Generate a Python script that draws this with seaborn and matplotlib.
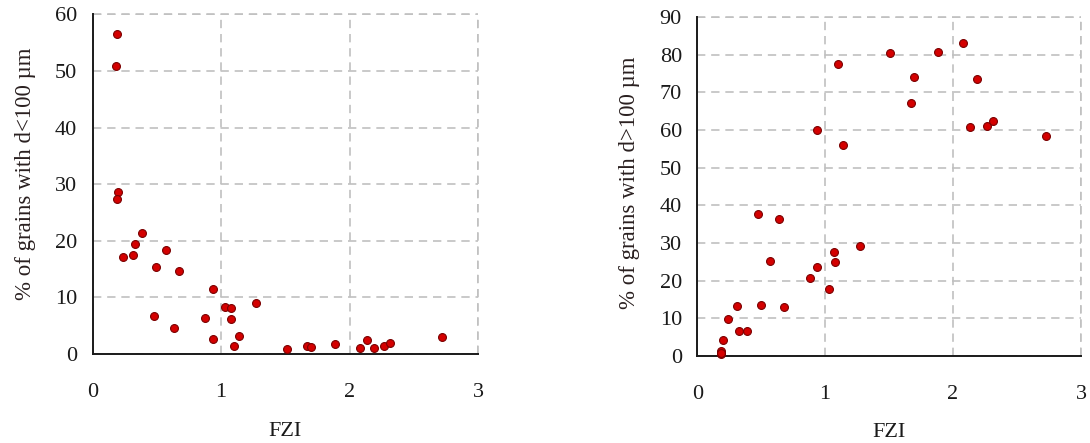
import numpy as np
import pandas as pd
import seaborn as sns
import matplotlib
matplotlib.use("Agg")
import matplotlib.pyplot as plt

# Left panel: % of grains with d<100 µm vs FZI
fzi_left = [0.188, 0.181, 0.199, 0.188, 0.385, 0.330, 0.234, 0.312, 0.571, 0.496,
            0.675, 0.934, 0.475, 0.633, 0.877, 0.934, 1.027, 1.074, 1.074, 1.138,
            1.102, 1.270, 1.511, 1.669, 1.700, 1.884, 2.078, 2.135, 2.193, 2.265,
            2.314, 2.721]
pct_fine = [56.5, 50.8, 28.6, 27.3, 21.4, 19.5, 17.1, 17.4, 18.3, 15.4,
            14.6, 11.5, 6.8, 4.65, 6.4, 2.6, 8.3, 8.1, 6.1, 3.2,
            1.5, 8.95, 0.9, 1.5, 1.3, 1.8, 1.1, 2.4, 1.1, 1.5,
            2.0, 3.0]

# Right panel: % of grains with d>100 µm vs FZI
fzi_right = [1.100, 1.510, 0.933, 1.138, 1.886, 2.080, 1.698, 2.190, 1.670, 2.136,
             2.266, 2.313, 2.724, 0.477, 0.636, 0.570, 1.070, 1.271, 0.933, 1.073,
             0.880, 1.029, 0.310, 0.495, 0.675, 0.237, 0.328, 0.386, 0.198, 0.188,
             0.183, 0.186]
pct_coarse = [77.6, 80.4, 60.1, 56.0, 80.8, 83.2, 74.0, 73.5, 67.1, 60.8,
              61.2, 62.4, 58.5, 37.7, 36.4, 25.3, 27.5, 29.1, 23.7, 25.0,
              20.8, 17.7, 13.3, 13.6, 12.9, 9.8, 6.6, 6.6, 4.1, 1.3,
              0.4, 0.8]

x_ticks = [0, 1, 2, 3]
left_yticks = [0, 10, 20, 30, 40, 50, 60]
right_yticks = [0, 10, 20, 30, 40, 50, 60, 70, 80, 90]

sns.set_theme(style="white")
plt.rcParams['font.family'] = ['Liberation Serif', 'DejaVu Serif']

fig = plt.figure(figsize=(10.9, 4.43), dpi=100)
ax1 = fig.add_axes([0.0849, 0.2009, 0.3537, 0.7668])
ax2 = fig.add_axes([0.6397, 0.1970, 0.3520, 0.7640])

df_l = pd.DataFrame({"FZI": fzi_left, "pct": pct_fine})
df_r = pd.DataFrame({"FZI": fzi_right, "pct": pct_coarse})

panels = [
    (ax1, df_l, left_yticks, "% of grains with d<100 µm", 0.53),
    (ax2, df_r, right_yticks, "% of grains with d>100 µm", 0.51),
]

dash = (0, (5, 3.5))
gcol = "#c0c0c0"
for ax, df, yt, ylab, ly in panels:
    sns.scatterplot(data=df, x="FZI", y="pct", ax=ax, s=32, color="#d40000",
                    edgecolor="#7a0000", linewidth=0.8, zorder=3, clip_on=False)
    ax.set_xlim(0, 3)
    ax.set_ylim(0, yt[-1])
    ax.set_xticks(x_ticks)
    ax.set_yticks(yt)
    ax.grid(True, linestyle=dash, color=gcol, linewidth=1.2, zorder=0)
    ax.set_axisbelow(True)
    for side in ["top", "right"]:
        ax.spines[side].set_visible(False)
    ax.axhline(yt[-1], linestyle=dash, color=gcol, linewidth=1.2, zorder=0, clip_on=False)
    ax.axvline(3, linestyle=dash, color=gcol, linewidth=1.2, zorder=0, clip_on=False)
    for side in ["left", "bottom"]:
        ax.spines[side].set_color("#1a1a1a")
        ax.spines[side].set_linewidth(1.4)
    ax.tick_params(axis="both", direction="out", length=6, width=1.4, color="#1a1a1a",
                   labelsize=16, labelcolor="#1a1a1a", pad=5)
    ax.tick_params(axis="x", pad=14, length=7)
    ax.set_xlabel("FZI", fontsize=16, color="#1a1a1a", labelpad=14)
    ax.set_ylabel(ylab, fontsize=16.5, color="#2a2020", labelpad=14)
    ax.yaxis.label.set_y(ly)

fig.savefig("out.png", dpi=100)
